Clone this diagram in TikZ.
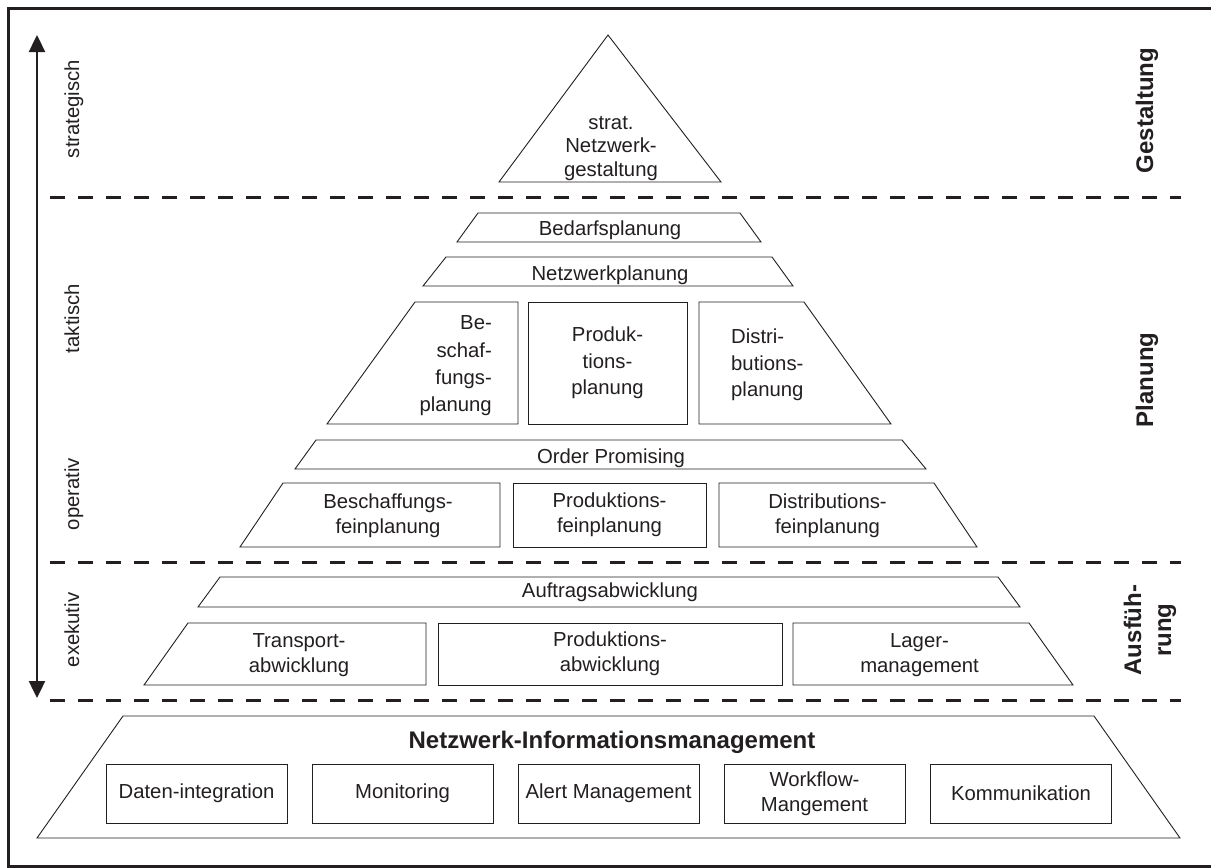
\documentclass[tikz,border=0pt]{standalone}
\usepackage{fontspec}
\setmainfont{Liberation Sans}
\usetikzlibrary{arrows.meta}
\definecolor{ink}{HTML}{231F20}
\newcommand\fsz[1]{\fontsize{20.3}{#1}\selectfont}
\begin{document}
\begin{tikzpicture}[x=1pt,y=-1pt,
  shp/.style={draw=ink, line width=0.9pt, line join=miter},
  txt/.style={text=ink, inner sep=0pt, align=center, font=\fsz{25}},
  boldtxt/.style={text=ink, inner sep=0pt, align=center, font=\fontsize{24}{30}\selectfont\bfseries},
  sepline/.style={draw=ink, line width=3pt, dash pattern=on 15pt off 13pt},
  box/.style={shp, txt, minimum width=181pt, minimum height=59pt},
]
\useasboundingbox (0,0) rectangle (1211,868);
\fill[white] (0,0) rectangle (1211,868);
% frame
\draw[draw=ink, line width=3pt] (1213,8.5) -- (8.5,8.5) -- (8.5,866.5) -- (1213,866.5);

% arrow
\coordinate (atop) at (37,35);
\coordinate (abot) at (37,698);
\draw[ink, line width=2.4pt, {Triangle[length=17pt,width=16pt]}-{Triangle[length=17pt,width=16pt]}] (atop) -- (abot);

% dashed separators
\coordinate (d1l) at (50,197.5); \coordinate (d1r) at (1181,197.5);
\coordinate (d2l) at (50,562); \coordinate (d2r) at (1181,562);
\coordinate (d3l) at (50,700); \coordinate (d3r) at (1181,700);
\draw[sepline] (d1l) -- (d1r);
\draw[sepline] (d2l) -- (d2r);
\draw[sepline] (d3l) -- (d3r);

% left labels
\node[txt, rotate=90, anchor=base] (lstrat) at (79,109) {strategisch};
\node[txt, rotate=90, anchor=base] (ltakt) at (79,318.6) {taktisch};
\node[txt, rotate=90, anchor=base] (lop) at (79,494) {operativ};
\node[txt, rotate=90, anchor=base] (lexe) at (79,630) {exekutiv};

% right labels
\node[boldtxt, rotate=90, anchor=base] (rgest) at (1153,110.5) {Gestaltung};
\node[boldtxt, rotate=90, anchor=base] (rplan) at (1153,380) {Planung};
\node[boldtxt, rotate=90] (raus) at (1150,630) {Ausfüh-\\rung};

% strategic triangle
\draw[shp] (608,35) -- (721,182) -- (499,182) -- cycle;
\node[txt, font=\fsz{23.5}] (strat) at (611,148.3) {strat.\\Netzwerk-\\gestaltung};

% Bedarfsplanung
\draw[shp] (478,213) -- (740,213) -- (761,242) -- (457,242) -- cycle;
\node[txt, anchor=base] (bedarf) at (610,235.5) {Bedarfsplanung};

% Netzwerkplanung
\draw[shp] (446,257) -- (772,257) -- (793,286) -- (423,286) -- cycle;
\node[txt, anchor=base] (netzpl) at (610,280) {Netzwerkplanung};

% Beschaffungs-/Produktions-/Distributionsplanung
\draw[shp] (415,302) -- (518,302) -- (518,424) -- (327,424) -- cycle;
\node[txt, align=right, anchor=east, font=\fsz{27.3}] (beschpl) at (492,366) {Be-\\schaf-\\fungs-\\planung};
\node[shp, txt, minimum width=159pt, minimum height=122pt, font=\fsz{26.7}] (prodpl) at (607.5,363) {Produk-\\tions-\\planung};
\draw[shp] (699,302) -- (804,302) -- (891,424) -- (699,424) -- cycle;
\node[txt, align=left, anchor=west, font=\fsz{26.7}] (distpl) at (731,364.75) {Distri-\\butions-\\planung};

% Order Promising
\draw[shp] (316,440) -- (902,440) -- (926,469) -- (295,469) -- cycle;
\node[txt, anchor=base] (order) at (611,463.5) {Order Promising};

% Feinplanung
\draw[shp] (283,483) -- (500,483) -- (500,547) -- (240,547) -- cycle;
\node[txt] (beschf) at (388,515.75) {Beschaffungs-\\feinplanung};
\node[shp, txt, minimum width=193pt, minimum height=64pt] (prodf) at (609.5,515) {Produktions-\\feinplanung};
\draw[shp] (719,483) -- (934,483) -- (977,547) -- (719,547) -- cycle;
\node[txt] (distf) at (827.5,515.75) {Distributions-\\feinplanung};

% Auftragsabwicklung
\draw[shp] (220,577) -- (998,577) -- (1020,607) -- (198,607) -- cycle;
\node[txt, anchor=base] (auftr) at (610,597) {Auftragsabwicklung};

% Transport / Produktion / Lager
\draw[shp] (188,623) -- (426,623) -- (426,685) -- (144,685) -- cycle;
\node[txt] (transp) at (299,655.5) {Transport-\\abwicklung};
\node[shp, txt, minimum width=344pt, minimum height=62pt] (prodabw) at (610,654) {Produktions-\\abwicklung};
\draw[shp] (793,623) -- (1029,623) -- (1073,685) -- (793,685) -- cycle;
\node[txt] (lager) at (919.5,655.5) {Lager-\\management};

% Netzwerk-Informationsmanagement
\draw[shp] (123,716) -- (1094,716) -- (1180,838) -- (37,838) -- cycle;
\node[boldtxt, anchor=base] (nim) at (612,748.3) {Netzwerk-Informationsmanagement};
\node[box] (daten) at (196.5,793.5) {Daten-integration};
\node[box] (monit) at (402.5,793.5) {Monitoring};
\node[box] (alert) at (608.5,793.5) {Alert Management};
\node[box] (workf) at (814.5,793.5) {Workflow-\\Mangement};
\node[box] (kommu) at (1021,793.5) {Kommunikation};
\end{tikzpicture}
\end{document}
